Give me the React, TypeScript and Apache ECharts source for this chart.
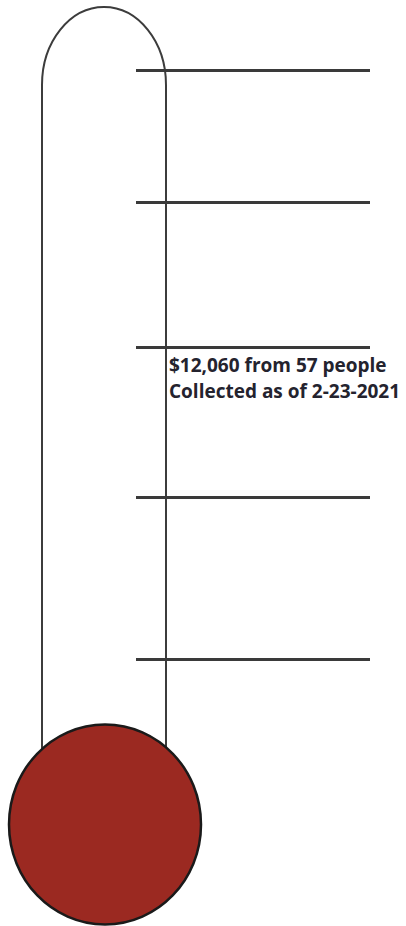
import React, { useEffect, useRef } from "react";
import * as echarts from "echarts";

// Tick levels on a 0..100 scale (0 = bottom of the page, 100 = top)
const tickLevels: number[] = [92.4, 78.2, 62.5, 46.3, 28.8];
const amountRaised: string = "$12,060";
const donorCount: number = 57;
const asOfDate: string = "2-23-2021";
const captionLines: string[] = [
  `${amountRaised} from ${donorCount} people`,
  `Collected as of ${asOfDate}`,
];

const TUBE_D = "M42 790 L42 85 A62 78 0 0 1 166 85 L166 790";

export default function App() {
  const ref = useRef<HTMLDivElement>(null);
  useEffect(() => {
    document.body.style.margin = "0";
    if (!ref.current) return;
    echarts.graphic.registerShape(
      "tube",
      (echarts.graphic as any).extendPath(TUBE_D, {})
    );
    const chart = echarts.init(ref.current, undefined, { renderer: "svg" });
    chart.setOption({
      animation: false,
      backgroundColor: "#ffffff",
      grid: { left: 136, right: 36, top: 0, bottom: 0 },
      xAxis: { type: "value", min: 0, max: 1, show: false },
      yAxis: { type: "value", min: 0, max: 100, show: false },
      series: [
        {
          type: "line",
          data: [],
          silent: true,
          z: 3,
          markLine: {
            silent: true,
            symbol: ["none", "none"],
            label: { show: false },
            lineStyle: { color: "#3a3a3a", width: 3, type: "solid" },
            data: tickLevels.map((v) => ({ yAxis: v })),
          },
        },
      ],
      graphic: [
        {
          type: "tube",
          z: 1,
          x: 0,
          y: 0,
          scaleX: 1,
          scaleY: 1,
          style: { fill: "none", stroke: "#3c3c3c", lineWidth: 2 },
        },
        {
          type: "ellipse",
          z: 10,
          shape: { cx: 105, cy: 824.5, rx: 96, ry: 100 },
          style: { fill: "#9b2921", stroke: "#1a1a1a", lineWidth: 2.5 },
        },
        {
          type: "text",
          z: 10,
          x: 169,
          y: 352,
          style: {
            text: captionLines.join("\n"),
            font: "700 19px 'Open Sans'",
            lineHeight: 26,
            fill: "#24232e",
          },
        },
      ],
    });
    return () => chart.dispose();
  }, []);
  return <div ref={ref} style={{ width: 406, height: 926 }} />;
}
